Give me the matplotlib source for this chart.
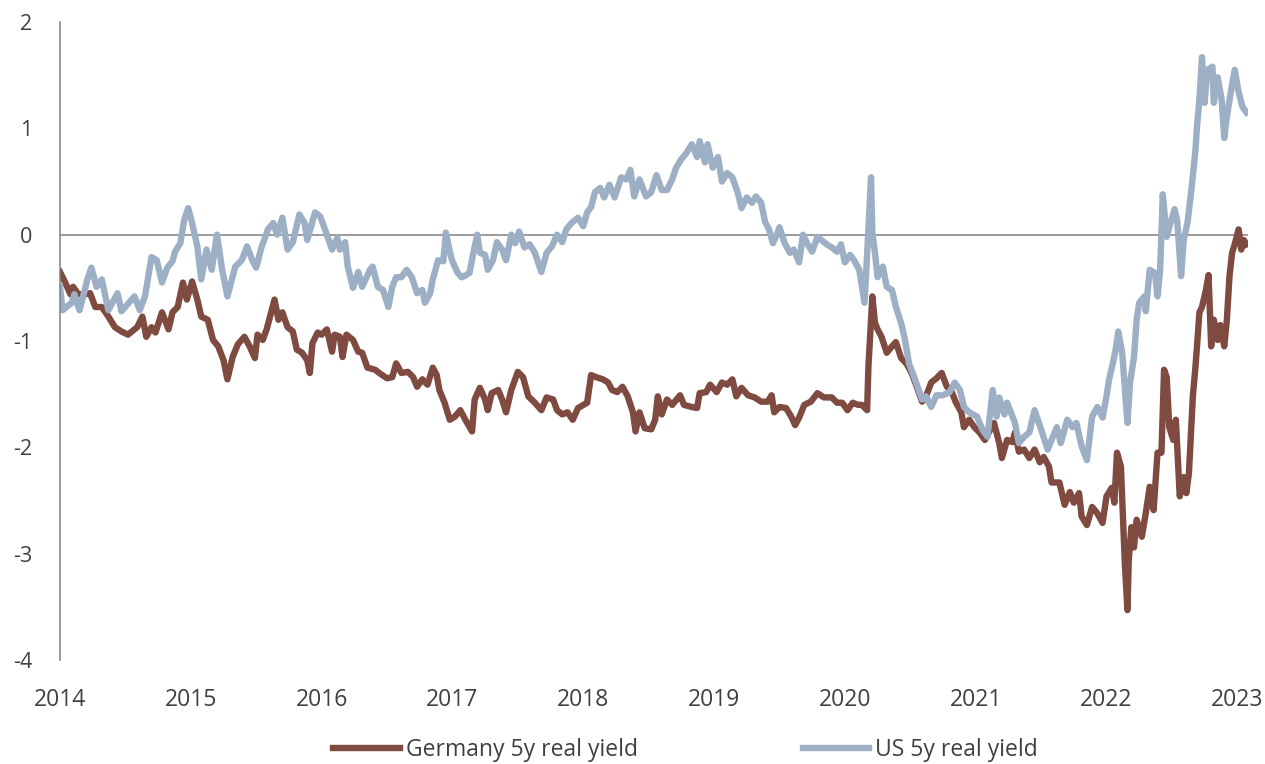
import matplotlib
matplotlib.use("Agg")
import matplotlib.pyplot as plt

plt.rcParams["font.family"] = ["Open Sans", "DejaVu Sans"]
plt.rcParams["axes.unicode_minus"] = False

# time axis in decimal years, values in %
us_t = [2014.00, 2014.02, 2014.09, 2014.11, 2014.15, 2014.21, 2014.24, 2014.28, 2014.32, 2014.37,
        2014.44, 2014.47, 2014.57, 2014.61, 2014.65, 2014.70, 2014.74, 2014.78, 2014.82, 2014.86,
        2014.88, 2014.92, 2014.95, 2014.98, 2015.01, 2015.05, 2015.08, 2015.12, 2015.16, 2015.20,
        2015.24, 2015.28, 2015.34, 2015.39, 2015.43, 2015.47, 2015.50, 2015.54, 2015.59, 2015.63,
        2015.66, 2015.70, 2015.74, 2015.78, 2015.83, 2015.87, 2015.89, 2015.95, 2015.99, 2016.02,
        2016.08, 2016.12, 2016.14, 2016.18, 2016.20, 2016.24, 2016.28, 2016.31, 2016.37, 2016.39,
        2016.43, 2016.47, 2016.51, 2016.54, 2016.57, 2016.61, 2016.65, 2016.69, 2016.73, 2016.77,
        2016.79, 2016.83, 2016.85, 2016.89, 2016.93, 2016.95, 2016.98, 2017.00, 2017.04, 2017.07,
        2017.09, 2017.13, 2017.16, 2017.19, 2017.21, 2017.25, 2017.27, 2017.31, 2017.34, 2017.38,
        2017.41, 2017.45, 2017.48, 2017.51, 2017.55, 2017.59, 2017.63, 2017.68, 2017.72, 2017.76,
        2017.80, 2017.84, 2017.87, 2017.91, 2017.96, 2018.00, 2018.03, 2018.06, 2018.09, 2018.13,
        2018.16, 2018.20, 2018.24, 2018.29, 2018.33, 2018.36, 2018.39, 2018.43, 2018.48, 2018.52,
        2018.56, 2018.60, 2018.64, 2018.68, 2018.71, 2018.75, 2018.79, 2018.83, 2018.87, 2018.89,
        2018.93, 2018.95, 2018.99, 2019.03, 2019.06, 2019.10, 2019.14, 2019.18, 2019.21, 2019.25,
        2019.29, 2019.32, 2019.36, 2019.39, 2019.42, 2019.45, 2019.48, 2019.50, 2019.54, 2019.58,
        2019.61, 2019.65, 2019.68, 2019.71, 2019.75, 2019.79, 2019.82, 2019.86, 2019.90, 2019.94,
        2019.97, 2020.00, 2020.04, 2020.07, 2020.11, 2020.15, 2020.17, 2020.20, 2020.21, 2020.23,
        2020.25, 2020.29, 2020.32, 2020.36, 2020.39, 2020.43, 2020.46, 2020.49, 2020.53, 2020.59,
        2020.62, 2020.66, 2020.70, 2020.75, 2020.80, 2020.84, 2020.88, 2020.91, 2020.95, 2021.01,
        2021.05, 2021.09, 2021.13, 2021.16, 2021.18, 2021.22, 2021.24, 2021.30, 2021.33, 2021.37,
        2021.41, 2021.45, 2021.50, 2021.55, 2021.59, 2021.62, 2021.65, 2021.70, 2021.74, 2021.77,
        2021.81, 2021.85, 2021.89, 2021.93, 2021.97, 2022.00, 2022.02, 2022.05, 2022.07, 2022.09,
        2022.12, 2022.16, 2022.18, 2022.21, 2022.23, 2022.25, 2022.29, 2022.30, 2022.33, 2022.37,
        2022.39, 2022.41, 2022.43, 2022.46, 2022.48, 2022.52, 2022.54, 2022.57, 2022.59, 2022.62,
        2022.64, 2022.66, 2022.68, 2022.69, 2022.71, 2022.73, 2022.75, 2022.77, 2022.81, 2022.82,
        2022.85, 2022.88, 2022.90, 2022.92, 2022.95, 2022.98, 2023.01, 2023.04, 2023.07]
us_y = [-0.49, -0.71, -0.64, -0.56, -0.71, -0.42, -0.31, -0.49, -0.42, -0.71,
        -0.55, -0.72, -0.58, -0.71, -0.58, -0.21, -0.24, -0.45, -0.31, -0.25,
        -0.16, -0.08, 0.14, 0.25, 0.11, -0.11, -0.42, -0.14, -0.33, 0.00,
        -0.33, -0.58, -0.30, -0.24, -0.11, -0.24, -0.31, -0.12, 0.05, 0.11,
        0.00, 0.16, -0.14, -0.07, 0.19, 0.11, -0.05, 0.21, 0.17, 0.07,
        -0.14, -0.03, -0.14, -0.07, -0.30, -0.50, -0.35, -0.49, -0.33, -0.30,
        -0.49, -0.52, -0.68, -0.49, -0.40, -0.40, -0.33, -0.40, -0.55, -0.52,
        -0.64, -0.55, -0.42, -0.24, -0.25, 0.02, -0.16, -0.25, -0.36, -0.40,
        -0.39, -0.36, -0.17, 0.00, -0.17, -0.19, -0.33, -0.24, -0.07, -0.14,
        -0.24, 0.00, -0.08, 0.03, -0.12, -0.09, -0.17, -0.35, -0.17, -0.11,
        0.00, -0.07, 0.05, 0.11, 0.16, 0.08, 0.21, 0.26, 0.40, 0.44,
        0.35, 0.47, 0.35, 0.54, 0.52, 0.61, 0.36, 0.52, 0.36, 0.40,
        0.56, 0.42, 0.42, 0.52, 0.63, 0.71, 0.77, 0.85, 0.73, 0.88,
        0.68, 0.85, 0.63, 0.73, 0.50, 0.58, 0.54, 0.40, 0.25, 0.35,
        0.30, 0.36, 0.30, 0.12, 0.05, -0.08, 0.00, 0.07, -0.08, -0.17,
        -0.14, -0.26, 0.00, -0.08, -0.16, -0.02, -0.05, -0.09, -0.12, -0.16,
        -0.09, -0.26, -0.19, -0.24, -0.33, -0.64, -0.19, 0.54, 0.02, -0.17,
        -0.40, -0.30, -0.49, -0.52, -0.68, -0.83, -0.99, -1.21, -1.34, -1.55,
        -1.52, -1.62, -1.51, -1.51, -1.48, -1.39, -1.46, -1.62, -1.67, -1.71,
        -1.83, -1.90, -1.46, -1.71, -1.53, -1.69, -1.58, -1.77, -1.96, -1.90,
        -1.86, -1.65, -1.83, -2.02, -1.90, -1.81, -1.96, -1.74, -1.81, -1.77,
        -1.99, -2.12, -1.71, -1.62, -1.72, -1.52, -1.36, -1.20, -1.08, -0.91,
        -1.11, -1.77, -1.39, -1.15, -0.80, -0.64, -0.58, -0.72, -0.33, -0.36,
        -0.58, -0.33, 0.38, -0.02, 0.07, 0.24, 0.14, -0.39, -0.05, 0.12,
        0.33, 0.55, 0.80, 0.99, 1.27, 1.67, 1.24, 1.55, 1.58, 1.24,
        1.48, 1.27, 0.91, 1.11, 1.34, 1.55, 1.34, 1.20, 1.15]

de_t = [2014.00, 2014.04, 2014.08, 2014.10, 2014.14, 2014.19, 2014.23, 2014.27, 2014.32, 2014.37,
        2014.42, 2014.47, 2014.52, 2014.59, 2014.63, 2014.66, 2014.70, 2014.73, 2014.78, 2014.83,
        2014.86, 2014.90, 2014.94, 2014.97, 2015.01, 2015.05, 2015.08, 2015.13, 2015.17, 2015.21,
        2015.25, 2015.28, 2015.32, 2015.36, 2015.41, 2015.45, 2015.49, 2015.51, 2015.55, 2015.58,
        2015.64, 2015.67, 2015.70, 2015.74, 2015.78, 2015.81, 2015.85, 2015.89, 2015.91, 2015.93,
        2015.97, 2016.00, 2016.04, 2016.08, 2016.10, 2016.14, 2016.16, 2016.19, 2016.24, 2016.28,
        2016.31, 2016.35, 2016.41, 2016.44, 2016.50, 2016.54, 2016.57, 2016.61, 2016.66, 2016.70,
        2016.73, 2016.77, 2016.81, 2016.85, 2016.88, 2016.90, 2016.94, 2016.98, 2017.02, 2017.06,
        2017.09, 2017.15, 2017.17, 2017.21, 2017.25, 2017.27, 2017.30, 2017.35, 2017.38, 2017.41,
        2017.45, 2017.50, 2017.54, 2017.58, 2017.63, 2017.68, 2017.72, 2017.77, 2017.80, 2017.84,
        2017.88, 2017.92, 2017.96, 2018.03, 2018.06, 2018.10, 2018.15, 2018.19, 2018.22, 2018.26,
        2018.30, 2018.34, 2018.38, 2018.40, 2018.43, 2018.47, 2018.52, 2018.55, 2018.57, 2018.60,
        2018.64, 2018.68, 2018.74, 2018.77, 2018.83, 2018.87, 2018.89, 2018.94, 2018.97, 2019.02,
        2019.06, 2019.10, 2019.14, 2019.17, 2019.21, 2019.26, 2019.31, 2019.36, 2019.41, 2019.44,
        2019.46, 2019.50, 2019.55, 2019.59, 2019.62, 2019.65, 2019.69, 2019.74, 2019.79, 2019.84,
        2019.90, 2019.94, 2019.98, 2020.02, 2020.06, 2020.10, 2020.13, 2020.17, 2020.18, 2020.21,
        2020.23, 2020.25, 2020.28, 2020.32, 2020.36, 2020.39, 2020.43, 2020.47, 2020.51, 2020.55,
        2020.59, 2020.62, 2020.66, 2020.70, 2020.74, 2020.78, 2020.81, 2020.85, 2020.89, 2020.91,
        2020.95, 2020.99, 2021.03, 2021.07, 2021.10, 2021.14, 2021.18, 2021.20, 2021.24, 2021.28,
        2021.30, 2021.33, 2021.37, 2021.41, 2021.45, 2021.49, 2021.52, 2021.56, 2021.58, 2021.64,
        2021.68, 2021.72, 2021.75, 2021.79, 2021.81, 2021.85, 2021.89, 2021.93, 2021.97, 2022.00,
        2022.04, 2022.06, 2022.08, 2022.11, 2022.14, 2022.16, 2022.17, 2022.19, 2022.21, 2022.23,
        2022.27, 2022.30, 2022.33, 2022.36, 2022.39, 2022.42, 2022.44, 2022.46, 2022.48, 2022.51,
        2022.53, 2022.56, 2022.59, 2022.61, 2022.63, 2022.66, 2022.68, 2022.69, 2022.71, 2022.73,
        2022.76, 2022.78, 2022.80, 2022.82, 2022.85, 2022.87, 2022.90, 2022.92, 2022.94, 2022.96,
        2022.98, 2023.01, 2023.03, 2023.05, 2023.07]
de_y = [-0.35, -0.45, -0.56, -0.49, -0.56, -0.56, -0.55, -0.68, -0.68, -0.77,
        -0.87, -0.91, -0.94, -0.87, -0.77, -0.96, -0.87, -0.92, -0.73, -0.89,
        -0.73, -0.68, -0.45, -0.61, -0.44, -0.61, -0.77, -0.80, -0.99, -1.05,
        -1.18, -1.36, -1.15, -1.03, -0.96, -1.05, -1.16, -0.94, -0.99, -0.89,
        -0.61, -0.80, -0.73, -0.87, -0.91, -1.08, -1.11, -1.18, -1.30, -1.02,
        -0.92, -0.94, -0.89, -1.10, -0.94, -0.96, -1.15, -0.94, -0.99, -1.10,
        -1.11, -1.25, -1.27, -1.30, -1.35, -1.34, -1.21, -1.30, -1.29, -1.34,
        -1.43, -1.36, -1.41, -1.25, -1.32, -1.46, -1.58, -1.74, -1.71, -1.65,
        -1.72, -1.85, -1.55, -1.44, -1.55, -1.65, -1.49, -1.46, -1.55, -1.67,
        -1.46, -1.29, -1.34, -1.52, -1.58, -1.65, -1.53, -1.55, -1.65, -1.69,
        -1.67, -1.74, -1.63, -1.58, -1.32, -1.34, -1.36, -1.39, -1.46, -1.48,
        -1.43, -1.52, -1.67, -1.85, -1.67, -1.82, -1.83, -1.74, -1.52, -1.69,
        -1.55, -1.60, -1.51, -1.60, -1.62, -1.63, -1.49, -1.48, -1.41, -1.48,
        -1.39, -1.41, -1.36, -1.52, -1.44, -1.51, -1.53, -1.57, -1.57, -1.51,
        -1.67, -1.62, -1.63, -1.71, -1.79, -1.72, -1.60, -1.57, -1.49, -1.53,
        -1.53, -1.58, -1.58, -1.65, -1.58, -1.60, -1.60, -1.65, -1.24, -0.58,
        -0.83, -0.89, -0.96, -1.11, -1.05, -1.01, -1.16, -1.21, -1.30, -1.43,
        -1.57, -1.52, -1.39, -1.35, -1.30, -1.43, -1.46, -1.58, -1.67, -1.81,
        -1.74, -1.81, -1.86, -1.93, -1.86, -1.77, -1.96, -2.10, -1.93, -1.95,
        -1.86, -2.04, -2.02, -2.10, -2.02, -2.14, -2.09, -2.18, -2.33, -2.33,
        -2.54, -2.42, -2.52, -2.43, -2.65, -2.73, -2.56, -2.62, -2.71, -2.46,
        -2.38, -2.52, -2.05, -2.18, -3.09, -3.53, -3.06, -2.75, -2.94, -2.68,
        -2.84, -2.62, -2.37, -2.59, -2.05, -2.05, -1.27, -1.34, -1.81, -1.93,
        -1.74, -2.46, -2.28, -2.43, -2.24, -1.52, -1.24, -1.08, -0.73, -0.68,
        -0.52, -0.38, -1.05, -0.80, -0.99, -0.85, -1.05, -0.80, -0.39, -0.17,
        -0.09, 0.05, -0.14, -0.05, -0.09]

years = list(range(2014, 2024))
y_ticks = [-4, -3, -2, -1, 0, 1, 2]
labels = ["Germany 5y real yield", "US 5y real yield"]
colors = ["#7f4a40", "#9cafc5"]

fig = plt.figure(figsize=(12.65, 7.64), dpi=100)
ax = fig.add_axes([0.0474, 0.136, 0.939, 0.8352])

ax.plot(de_t, de_y, color=colors[0], lw=4.6, label=labels[0], solid_joinstyle="round")
ax.plot(us_t, us_y, color=colors[1], lw=4.6, label=labels[1], solid_joinstyle="round")

ax.axhline(0, color="#808080", lw=1.1, zorder=0)

ax.set_xlim(2014, 2023.08)
ax.set_ylim(-4, 2)
ax.set_xticks(years)
ax.set_xticklabels([str(y) for y in years])
ax.set_yticks(y_ticks)
ax.set_yticklabels([str(v) for v in y_ticks])
ax.tick_params(axis="both", length=0, colors="#404040")
ax.tick_params(axis="x", pad=20, labelsize=16.5)
ax.tick_params(axis="y", pad=20, labelsize=15.5)

for side in ["top", "right", "bottom"]:
    ax.spines[side].set_visible(False)
ax.spines["left"].set_color("#808080")
ax.spines["left"].set_linewidth(1.1)

fig.legend(loc="center", bbox_to_anchor=(0.542, 0.018), ncol=2, frameon=False,
           fontsize=16.5, handlelength=2.9, handletextpad=0.26, columnspacing=7.2,
           labelcolor="#404040")

fig.savefig("out.png", dpi=100)
